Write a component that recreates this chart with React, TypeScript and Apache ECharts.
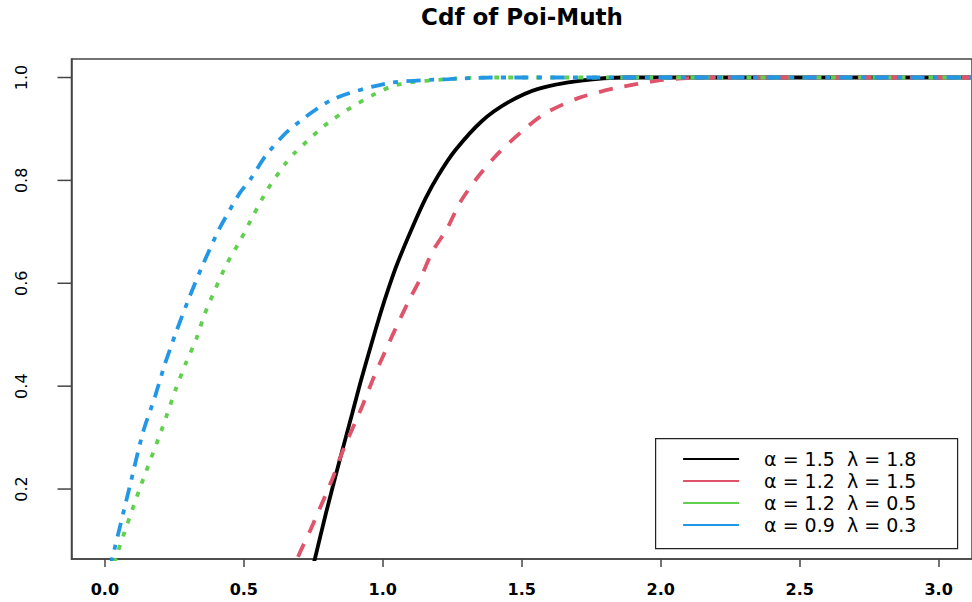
import React, { useEffect, useRef } from "react";
import * as echarts from "echarts";

const titleText = "Cdf of Poi-Muth";
const xMin = -0.12;
const xMax = 3.12;
const yMin = 0.064;
const yMax = 1.036;
const xTicks = [0, 0.5, 1.0, 1.5, 2.0, 2.5, 3.0];
const yTicks = [0.2, 0.4, 0.6, 0.8, 1.0];
const seriesNames = [
  "α = 1.5  λ = 1.8",
  "α = 1.2  λ = 1.5",
  "α = 1.2  λ = 0.5",
  "α = 0.9  λ = 0.3",
];
const seriesColors = ["#000000", "#DF536B", "#61D04F", "#2297E6"];

// α=1.5 λ=1.8 (black, solid)
const blackX = [0.73, 0.756, 0.795, 0.842, 0.89, 0.92, 0.957, 0.993, 1.023, 1.052, 1.106, 1.154, 1.2, 1.26, 1.356, 1.452, 1.559, 1.714, 1.87, 3.12];
const blackY = [0.01, 0.065, 0.152, 0.25, 0.347, 0.408, 0.478, 0.544, 0.594, 0.638, 0.708, 0.765, 0.81, 0.858, 0.915, 0.952, 0.978, 0.994, 1.0, 1.0];

// α=1.2 λ=1.5 (red, dashed)
const redX = [0.67, 0.693, 0.741, 0.818, 0.854, 0.926, 0.968, 1.008, 1.046, 1.092, 1.136, 1.178, 1.232, 1.28, 1.344, 1.416, 1.5, 1.583, 1.703, 1.834, 1.989, 2.097, 2.3, 3.12];
const redY = [0.02, 0.065, 0.122, 0.219, 0.271, 0.361, 0.418, 0.467, 0.512, 0.564, 0.61, 0.661, 0.707, 0.759, 0.808, 0.853, 0.895, 0.93, 0.96, 0.979, 0.994, 0.999, 1.0, 1.0];

// α=1.2 λ=0.5 (green, dotted)
const greenX = [0.02, 0.048, 0.125, 0.209, 0.255, 0.291, 0.329, 0.359, 0.396, 0.437, 0.488, 0.535, 0.586, 0.646, 0.682, 0.818, 1.033, 1.237, 1.4, 3.12];
const greenY = [0.03, 0.08, 0.2, 0.322, 0.394, 0.444, 0.492, 0.54, 0.587, 0.636, 0.684, 0.733, 0.783, 0.83, 0.853, 0.918, 0.983, 0.997, 1.0, 1.0];

// α=0.9 λ=0.3 (blue, dot-dash)
const blueX = [0.015, 0.03, 0.09, 0.137, 0.18, 0.215, 0.257, 0.305, 0.355, 0.413, 0.485, 0.526, 0.58, 0.663, 0.818, 1.02, 1.237, 1.4, 3.12];
const blueY = [0.04, 0.073, 0.206, 0.31, 0.379, 0.441, 0.506, 0.574, 0.639, 0.707, 0.775, 0.804, 0.849, 0.898, 0.957, 0.989, 0.997, 1.0, 1.0];

const dashes: (number[] | string)[] = ["solid", [14, 12], [5, 9], [14, 8.5, 5, 8.5]];

export default function App() {
  const ref = useRef<HTMLDivElement>(null);
  useEffect(() => {
    const chart = echarts.init(ref.current as HTMLDivElement, null, { renderer: "svg" });
    const zip = (xs: number[], ys: number[]) => xs.map((x, i) => [x, ys[i]]);
    const datasets = [zip(blackX, blackY), zip(redX, redY), zip(greenX, greenY), zip(blueX, blueY)];
    const font = "DejaVu Sans";
    const lineSeries = seriesNames.map((n, i) => ({
      name: n,
      type: "line",
      data: datasets[i],
      symbol: "none",
      showSymbol: false,
      smooth: 0.25,
      clip: true,
      color: seriesColors[i],
      lineStyle: { color: seriesColors[i], width: 3.8, type: dashes[i], cap: "butt" },
      z: 2 + i,
    }));
    const option: any = {
      animation: false,
      backgroundColor: "#ffffff",
      title: {
        text: titleText,
        left: 522,
        textAlign: "center",
        top: 5,
        padding: 0,
        textStyle: { fontFamily: font, fontWeight: "bold", fontSize: 23, color: "#000" },
      },
      grid: {
        left: 71.5,
        top: 59,
        width: 903,
        height: 500,
        show: true,
        borderColor: "#444",
        borderWidth: 1.5,
        backgroundColor: "transparent",
      },
      xAxis: {
        type: "value",
        position: "bottom",
        min: xMin,
        max: xMax,
        axisLine: { show: true, onZero: false, lineStyle: { color: "#444", width: 1.5 } },
        splitLine: { show: false },
        axisTick: { show: true, length: 8, customValues: xTicks, lineStyle: { color: "#444", width: 1.5 } },
        axisLabel: {
          customValues: xTicks,
          margin: 22,
          formatter: (v: number) => v.toFixed(1),
          fontFamily: font,
          fontWeight: "bold",
          fontSize: 16,
          color: "#000",
        },
      },
      yAxis: {
        type: "value",
        position: "left",
        min: yMin,
        max: yMax,
        axisLine: { show: true, onZero: false, lineStyle: { color: "#444", width: 1.5 } },
        splitLine: { show: false },
        axisTick: { show: false },
        axisLabel: {
          customValues: yTicks,
          rotate: 90,
          margin: 0,
          formatter: (v: number) => `{v|${v.toFixed(1)}}\n{t|}`,
          rich: {
            v: { fontFamily: font, fontSize: 16, lineHeight: 72, color: "#000" },
            t: { width: 1.5, height: 14, lineHeight: 14, backgroundColor: "#444" },
          },
        },
      },
      legend: {
        orient: "vertical",
        left: 682,
        top: 449,
        padding: 0,
        itemWidth: 56,
        itemHeight: 14,
        itemGap: 2,
        selectedMode: false,
        textStyle: { fontFamily: font, fontSize: 19, lineHeight: 20, color: "#000", padding: [0, 0, 0, 20] },
        data: seriesNames.map((n, i) => ({
          name: n,
          itemStyle: { opacity: 0 },
          lineStyle: { type: "solid", width: 2.2, color: seriesColors[i], opacity: 1 },
        })),
      },
      graphic: [
        {
          type: "rect",
          left: 655,
          top: 438,
          shape: { width: 302, height: 110 },
          style: { fill: "transparent", stroke: "#222", lineWidth: 1.2 },
          z: 100,
        },
      ],
      series: lineSeries,
    };
    chart.setOption(option);
    return () => chart.dispose();
  }, []);
  return (
    <div ref={ref} style={{ position: "fixed", left: 0, top: 0, width: 972, height: 602, background: "#fff" }} />
  );
}
